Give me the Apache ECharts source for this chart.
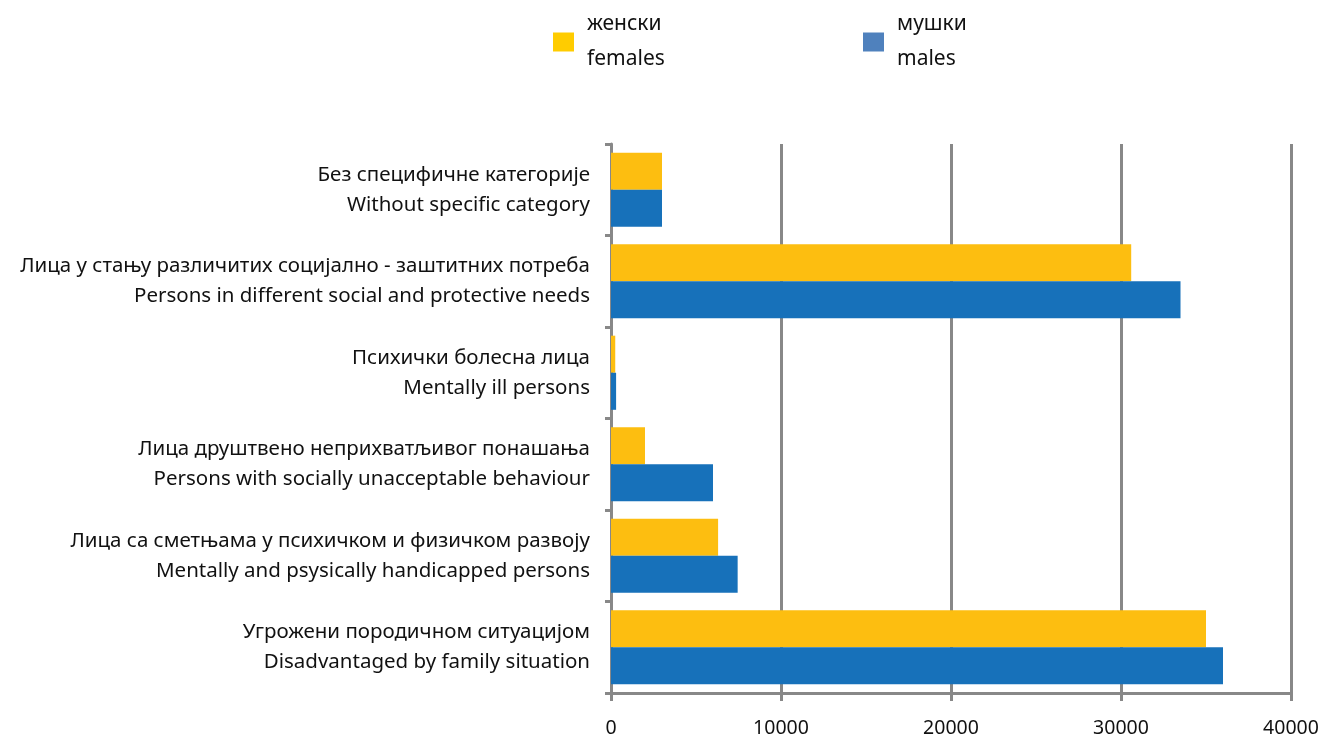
<!DOCTYPE html>
<html>
<head>
<meta charset="utf-8">
<script src="https://cdn.jsdelivr.net/npm/echarts@6/dist/echarts.min.js"></script>
<style>
  html, body { margin: 0; padding: 0; background: #fff; }
  #chart { width: 1324px; height: 738px; }
</style>
</head>
<body>
<div id="chart"></div>
<script>
// categories, top to bottom
const categories = [
  'Без специфичне категорије\nWithout specific category',
  'Лица у стању различитих социјално - заштитних потреба\nPersons in different social and protective needs',
  'Психички болесна лица\nMentally ill persons',
  'Лица друштвено неприхватљивог понашања\nPersons with socially unacceptable behaviour',
  'Лица са сметњама у психичком и физичком развоју\nMentally and psysically handicapped persons',
  'Угрожени породичном ситуацијом\nDisadvantaged by family situation'
]
const femaleName = 'женски\nfemales'
const maleName = 'мушки\nmales'
const females = [3000, 30600, 250, 2000, 6300, 35000]
const males = [3000, 33500, 300, 6000, 7450, 36000]
const xTicks = { min: 0, max: 40000, interval: 10000 }

const font = 'Noto Sans'
const gray = '#888888'

const chart = echarts.init(document.getElementById('chart'))

const legendBase = {
  orient: 'horizontal',
  top: 7,
  padding: 0,
  itemWidth: 21,
  itemHeight: 19,
  icon: 'rect',
  selectedMode: false,
  textStyle: { fontFamily: font, fontSize: 21, lineHeight: 35, color: '#111', padding: [0, 0, 0, 8] }
}

chart.setOption({
  animation: false,
  legend: [
    Object.assign({}, legendBase, {
      left: 553,
      data: [{ name: femaleName, itemStyle: { color: '#FFCC00' } }]
    }),
    Object.assign({}, legendBase, {
      left: 863,
      data: [{ name: maleName, itemStyle: { color: '#4F81BD' } }]
    })
  ],
  grid: {
    left: 611,
    right: 33,
    top: 144,
    bottom: 45
  },
  xAxis: {
    type: 'value',
    min: xTicks.min,
    max: xTicks.max,
    interval: xTicks.interval,
    axisLine: { show: true, lineStyle: { color: gray, width: 3 } },
    axisTick: { show: true, length: 8, lineStyle: { color: gray, width: 3 } },
    splitLine: { show: true, lineStyle: { color: gray, width: 3 } },
    axisLabel: {
      fontFamily: font,
      fontSize: 19.5,
      color: '#111',
      margin: 25,
      formatter: v => String(v)
    }
  },
  yAxis: {
    type: 'category',
    inverse: true,
    data: categories,
    axisLine: { show: true, lineStyle: { color: gray, width: 3 } },
    axisTick: { show: true, length: 6, lineStyle: { color: gray, width: 3 } },
    axisLabel: {
      fontFamily: font,
      fontSize: 20.5,
      lineHeight: 30,
      color: '#111',
      margin: 21,
      align: 'right'
    }
  },
  series: [
    {
      name: femaleName,
      type: 'bar',
      data: females,
      barGap: '0%',
      barCategoryGap: '19%',
      itemStyle: { color: '#FDBE10' }
    },
    {
      name: maleName,
      type: 'bar',
      data: males,
      barGap: '0%',
      barCategoryGap: '19%',
      itemStyle: { color: '#1771BA' }
    }
  ]
})
</script>
</body>
</html>
